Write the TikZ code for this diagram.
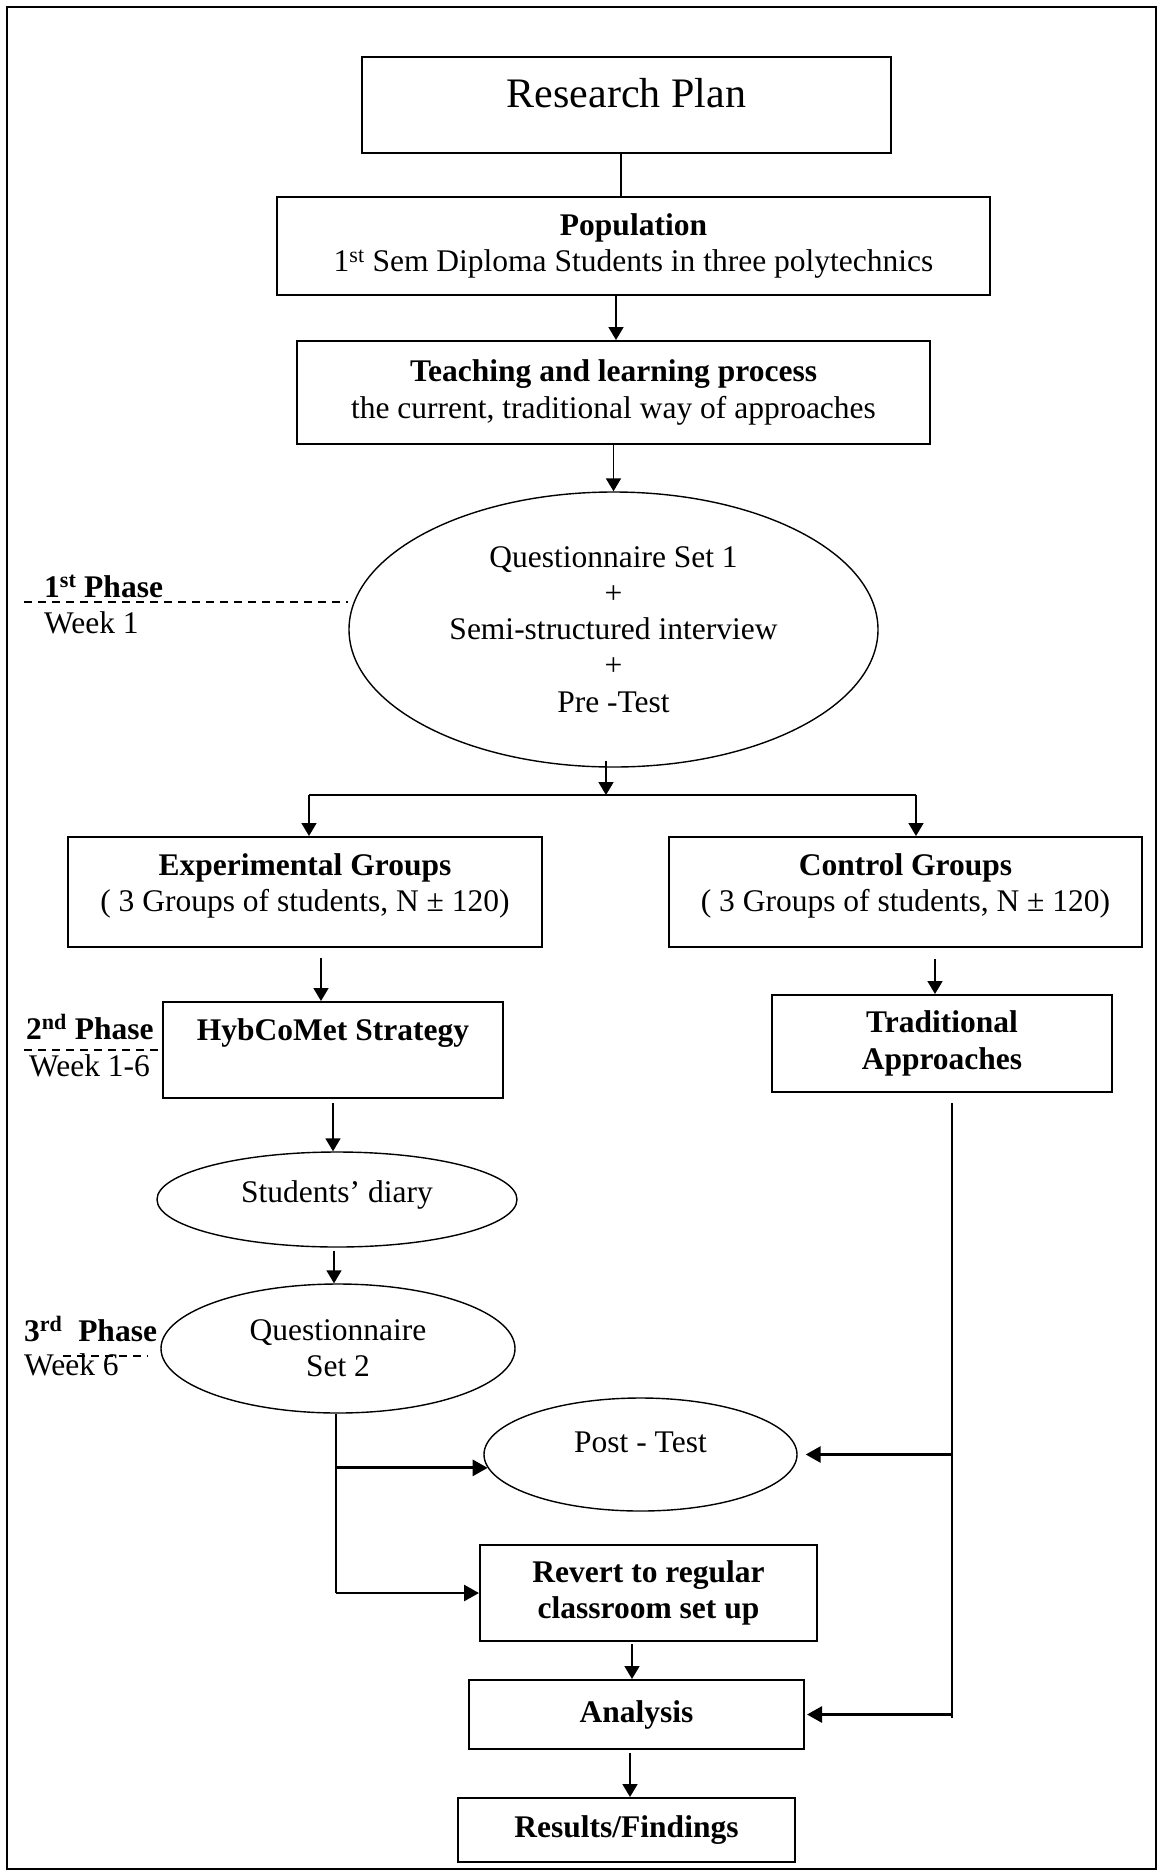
\documentclass[tikz,border=0pt]{standalone}
\usepackage{fontspec}
\setmainfont{Liberation Serif}
\usetikzlibrary{arrows.meta,shapes.geometric}

\begin{document}
\begin{tikzpicture}[x=1pt,y=-1pt,
  every node/.style={inner sep=0pt, align=center, font=\fontsize{31.5}{36.2}\selectfont},
  box/.style={draw, line width=2pt, rectangle},
  oval/.style={draw, line width=1.4pt, ellipse},
  link/.style={line width=1.7pt},
  thin/.style={line width=1.3pt},
  arr/.style={link, -{Triangle[length=13pt,width=15pt]}},
  arrT/.style={line width=2.8pt, -{Triangle[length=15pt,width=16pt]}},
  phase/.style={anchor=base west},
  sep/.style={dash pattern=on 8pt off 6pt, line width=2pt}
]
\useasboundingbox (0,0) rectangle (1159,1872);
\draw[line width=1.5pt] (7,7) rectangle (1156,1869);

% ---- main column ----
\node[box, minimum width=529pt, minimum height=96pt,
  label={[name=planT, font=\fontsize{42}{48}\selectfont, yshift=12pt]center:Research Plan}] (plan) at (626.5,105) {};
\node[box, minimum width=713pt, minimum height=98pt] (pop) at (633.5,246)
  {\textbf{Population}\\1\textsuperscript{st} Sem Diploma Students in three polytechnics};
\node[box, minimum width=633pt, minimum height=103pt] (teach) at (613.5,392.5)
  {\textbf{Teaching and learning process}\\the current, traditional way of approaches};
\node[oval, minimum width=529pt, minimum height=275pt] (q1) at (613.5,629.5)
  {Questionnaire Set 1\\+\\Semi-structured interview\\+\\Pre -Test};

% ---- two groups ----
\node[box, minimum width=474pt, minimum height=110pt,
  label={[name=expT, yshift=6pt]center:{\textbf{Experimental Groups}\\( 3 Groups of students, N ± 120)}}] (exp) at (305,892) {};
\node[box, minimum width=473pt, minimum height=110pt,
  label={[name=ctlT, yshift=6pt]center:{\textbf{Control Groups}\\( 3 Groups of students, N ± 120)}}] (ctl) at (905.5,892) {};

\node[box, minimum width=340pt, minimum height=96pt,
  label={[name=hybT, yshift=17pt]center:\textbf{HybCoMet Strategy}}] (hyb) at (333,1050) {};
\node[box, minimum width=340pt, minimum height=97pt] (trad) at (942,1043.5)
  {\textbf{Traditional}\\\textbf{Approaches}};

\node[oval, minimum width=360pt, minimum height=95pt,
  label={[name=diaryT, yshift=5pt]center:Students’ diary}] (diary) at (337,1199.5) {};
\node[oval, minimum width=354pt, minimum height=129pt] (q2) at (338,1348.5) {Questionnaire\\Set 2};
\node[oval, minimum width=313pt, minimum height=113pt,
  label={[name=postT, yshift=12.5pt]center:Post - Test}] (post) at (640.5,1454.5) {};

\node[box, minimum width=337pt, minimum height=96pt] (rev) at (648.5,1593)
  {\textbf{Revert to regular}\\\textbf{classroom set up}};
\node[box, minimum width=335pt, minimum height=69pt] (ana) at (636.5,1714.5) {\textbf{Analysis}};
\node[box, minimum width=337pt, minimum height=64pt] (res) at (626.5,1830) {\textbf{Results/Findings}};

% ---- phase markers ----
\node[phase] (ph1) at (44,597) {\textbf{1\textsuperscript{st} Phase}};
\node[phase] (wk1) at (44,633) {Week 1};
\node[phase] (ph2) at (26,1039) {\textbf{2\textsuperscript{nd} Phase}};
\node[phase] (wk2) at (29,1076) {Week 1-6};
\node[phase] (ph3) at (24,1341) {\textbf{3\textsuperscript{rd}\ \ Phase}};
\node[phase] (wk3) at (24,1375) {Week 6};

\coordinate (d1) at (24,602);
\draw[sep] (d1) -- (d1 -| q1.west);
\coordinate (d2) at (24,1050);
\draw[sep] (d2) -- (hyb.west);
\coordinate (d3a) at (63,1356);
\coordinate (d3b) at (148,1356);
\draw[sep] (d3a) -- (d3b);

% ---- connectors ----
\draw[link] ([xshift=-5.5pt]plan.south) -- ([xshift=-5.5pt]plan.south |- pop.north);
\draw[arr] ([xshift=2.5pt]teach.north |- pop.south) -- ([xshift=2.5pt]teach.north);
\draw[arr] (teach.south) -- (q1.north);

\coordinate (split) at (606,795);
\coordinate (brL) at (309,795);
\coordinate (brR) at (916,795);
\draw[arr] ([yshift=7pt]split |- q1.south) -- (split);
\draw[link] (brL) -- (brR);
\draw[arr] (brL) -- (brL |- exp.north);
\draw[arr] (brR) -- (brR |- ctl.north);

\draw[arr] ([xshift=16pt,yshift=-10pt]exp.south) -- ([xshift=-12pt]hyb.north);
\draw[arr] ([xshift=29.5pt,yshift=-11pt]ctl.south) -- ([xshift=-7pt]trad.north);
\draw[arr] ([yshift=-4pt]hyb.south) -- (hyb.south |- diary.north);
\draw[arr] ([xshift=-3pt,yshift=-3pt]diary.south) -- ([xshift=-4pt]q2.north);

\draw[thin] ([xshift=-2pt]q2.south) -- ([xshift=-2pt]q2.south |- rev.west);
\draw[arrT] ([xshift=-2pt]q2.south |- post.185) -- (post.185);
\draw[arrT] ([xshift=-2pt]q2.south |- rev.west) -- (rev.west);

\draw[arr] ([xshift=-16.5pt,yshift=-2pt]rev.south) -- ([xshift=-4.5pt]ana.north);
\draw[arr] ([xshift=-6.5pt,yshift=-3pt]ana.south) -- ([xshift=3.5pt]res.north);

\coordinate (rTop) at ([xshift=10pt,yshift=-10pt]trad.south);
\coordinate (rBot) at (952,1718);
\draw[thin] (rTop) -- (rBot);
\draw[arrT] (rTop |- post.east) -- ([xshift=8pt]post.east);
\draw[arrT] (rTop |- ana.east) -- ([xshift=2pt]ana.east);
\end{tikzpicture}
\end{document}
